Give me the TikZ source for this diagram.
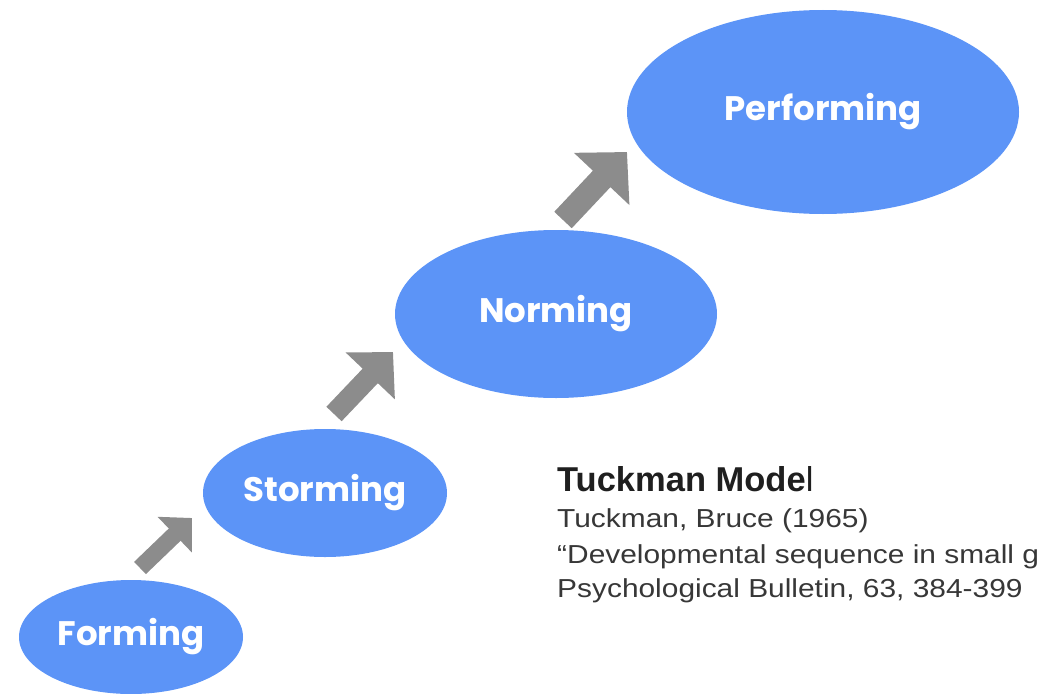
\documentclass[tikz,border=0pt]{standalone}
\usepackage{fontspec}
\setmainfont{Liberation Sans}
\newfontfamily\stagefont{Poppins}
\newfontfamily\citefont[FakeStretch=1.15]{Liberation Sans}
\newfontfamily\titlefont{Liberation Sans}
\usetikzlibrary{arrows.meta,shapes.geometric}
\definecolor{stageblue}{RGB}{92,148,247}
\definecolor{stepgray}{RGB}{140,140,140}
\definecolor{citegray}{RGB}{55,55,55}

\begin{document}
\begin{tikzpicture}[x=1pt, y=-1pt,
  stage/.style={ellipse, fill=stageblue, text=white, inner sep=0pt,
    font=\stagefont\bfseries\fontsize{34}{34}\selectfont},
  cite/.style={anchor=base west, inner sep=0pt, text=citegray,
    font=\citefont\fontsize{26}{30}\selectfont}]
  \useasboundingbox (0,0) rectangle (1038,693);
  \clip (0,0) rectangle (1038,693);

  % the four stages
  \node[stage, minimum width=224, minimum height=114] (forming) at (131,637) {Forming};
  \node[stage, minimum width=244, minimum height=128] (storming) at (325,493) {Storming};
  \node[stage, minimum width=322, minimum height=168] (norming) at (556,314) {Norming};
  \node[stage, minimum width=392, minimum height=204] (performing) at (823,112) {Performing};

  % steps between them
  \coordinate (step1a) at (140,568); \coordinate (step1b) at (192,518);
  \coordinate (step2a) at (334,414); \coordinate (step2b) at (393,352);
  \coordinate (step3a) at (563,220); \coordinate (step3b) at (627,152);
  \draw[stepgray, line width=17pt, -{Triangle[length=24pt,width=48pt]}] (step1a) -- (step1b);
  \draw[stepgray, line width=21pt, -{Triangle[length=33pt,width=66pt]}] (step2a) -- (step2b);
  \draw[stepgray, line width=24pt, -{Triangle[length=37pt,width=74pt]}] (step3a) -- (step3b);

  % reference
  \node[cite, text=black!88, font=\titlefont\bfseries\fontsize{34.5}{34.5}\selectfont] (title) at (557,491) {Tuckman Mode\mdseries l};
  \node[cite] (ref1) at (557,527) {Tuckman, Bruce (1965)};
  \node[cite] (ref2) at (557,563) {“Developmental sequence in small g};
  \node[cite] (ref3) at (557,597) {Psychological Bulletin, 63, 384-399};
\end{tikzpicture}
\end{document}
